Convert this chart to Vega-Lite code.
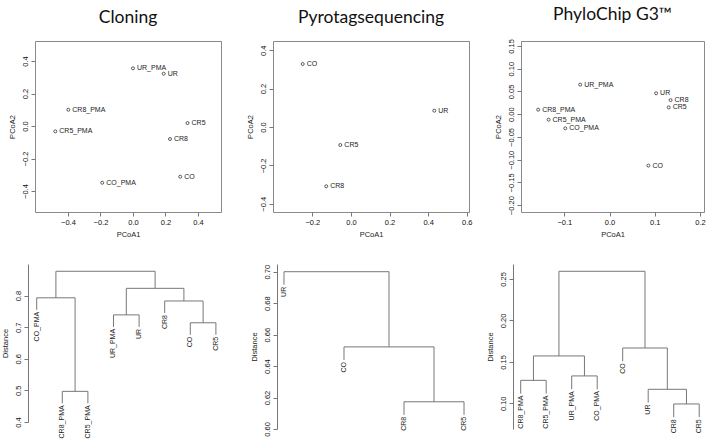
{
  "$schema": "https://vega.github.io/schema/vega-lite/v6.json",
  "padding": {"left": 0, "top": 5, "right": 2, "bottom": 2},
  "background": "white",
  "config": {
    "font": "Liberation Sans",
    "view": {"stroke": "#8a8a8a", "strokeWidth": 1},
    "axis": {"grid": false, "labelFontSize": 7.5, "titleFontSize": 7.5, "titleFontWeight": "normal", "labelColor": "#111", "titleColor": "#222", "tickColor": "#777", "domainColor": "#777", "tickSize": 4, "labelFont": "Liberation Sans", "titleFont": "Liberation Sans", "labelOverlap": false, "labelBound": false, "labelFlush": false},
    "axisX": {"labelPadding": 2, "titlePadding": 5, "domain": false},
    "axisY": {"labelAngle": 270, "labelAlign": "center", "labelBaseline": "bottom", "labelPadding": 2, "titlePadding": 5},
    "title": {"font": "Lato", "fontSize": 17.5, "fontWeight": "normal", "color": "#111", "anchor": "middle", "offset": 15}
  },
  "datasets": {
    "s1": [
      {"label": "UR_PMA", "pc1": 0.0, "pc2": 0.355},
      {"label": "UR", "pc1": 0.189, "pc2": 0.322},
      {"label": "CR8_PMA", "pc1": -0.398, "pc2": 0.10},
      {"label": "CR5_PMA", "pc1": -0.478, "pc2": -0.033},
      {"label": "CR5", "pc1": 0.336, "pc2": 0.018},
      {"label": "CR8", "pc1": 0.228, "pc2": -0.08},
      {"label": "CO", "pc1": 0.291, "pc2": -0.312},
      {"label": "CO_PMA", "pc1": -0.189, "pc2": -0.349}
    ],
    "s2": [
      {"label": "CO", "pc1": -0.25, "pc2": 0.328},
      {"label": "UR", "pc1": 0.432, "pc2": 0.085},
      {"label": "CR5", "pc1": -0.055, "pc2": -0.094},
      {"label": "CR8", "pc1": -0.128, "pc2": -0.309}
    ],
    "s3": [
      {"label": "UR_PMA", "pc1": -0.065, "pc2": 0.065},
      {"label": "UR", "pc1": 0.103, "pc2": 0.046},
      {"label": "CR8", "pc1": 0.135, "pc2": 0.031},
      {"label": "CR5", "pc1": 0.131, "pc2": 0.015},
      {"label": "CR8_PMA", "pc1": -0.158, "pc2": 0.010},
      {"label": "CR5_PMA", "pc1": -0.135, "pc2": -0.012},
      {"label": "CO_PMA", "pc1": -0.098, "pc2": -0.031},
      {"label": "CO", "pc1": 0.086, "pc2": -0.113}
    ],
    "d1seg": [
      {"x": 2, "x2": 3, "y": 0.497, "y2": 0.497},
      {"x": 2, "x2": 2, "y": 0.497, "y2": 0.459},
      {"x": 3, "x2": 3, "y": 0.497, "y2": 0.459},
      {"x": 1, "x2": 2.5, "y": 0.793, "y2": 0.793},
      {"x": 1, "x2": 1, "y": 0.793, "y2": 0.755},
      {"x": 2.5, "x2": 2.5, "y": 0.793, "y2": 0.497},
      {"x": 4, "x2": 5, "y": 0.739, "y2": 0.739},
      {"x": 4, "x2": 4, "y": 0.739, "y2": 0.701},
      {"x": 5, "x2": 5, "y": 0.739, "y2": 0.701},
      {"x": 7, "x2": 8, "y": 0.714, "y2": 0.714},
      {"x": 7, "x2": 7, "y": 0.714, "y2": 0.676},
      {"x": 8, "x2": 8, "y": 0.714, "y2": 0.676},
      {"x": 6, "x2": 7.5, "y": 0.783, "y2": 0.783},
      {"x": 6, "x2": 6, "y": 0.783, "y2": 0.745},
      {"x": 7.5, "x2": 7.5, "y": 0.783, "y2": 0.714},
      {"x": 4.5, "x2": 6.75, "y": 0.823, "y2": 0.823},
      {"x": 4.5, "x2": 4.5, "y": 0.823, "y2": 0.739},
      {"x": 6.75, "x2": 6.75, "y": 0.823, "y2": 0.783},
      {"x": 1.75, "x2": 5.625, "y": 0.877, "y2": 0.877},
      {"x": 1.75, "x2": 1.75, "y": 0.877, "y2": 0.793},
      {"x": 5.625, "x2": 5.625, "y": 0.877, "y2": 0.823}
    ],
    "d1lab": [
      {"label": "CO_PMA", "x": 1, "y": 0.755},
      {"label": "CR8_PMA", "x": 2, "y": 0.459},
      {"label": "CR5_PMA", "x": 3, "y": 0.459},
      {"label": "UR_PMA", "x": 4, "y": 0.701},
      {"label": "UR", "x": 5, "y": 0.701},
      {"label": "CR8", "x": 6, "y": 0.745},
      {"label": "CO", "x": 7, "y": 0.676},
      {"label": "CR5", "x": 8, "y": 0.676}
    ],
    "d2seg": [
      {"x": 3, "x2": 4, "y": 0.6173, "y2": 0.6173},
      {"x": 3, "x2": 3, "y": 0.6173, "y2": 0.609},
      {"x": 4, "x2": 4, "y": 0.6173, "y2": 0.609},
      {"x": 2, "x2": 3.5, "y": 0.6522, "y2": 0.6522},
      {"x": 2, "x2": 2, "y": 0.6522, "y2": 0.6439},
      {"x": 3.5, "x2": 3.5, "y": 0.6522, "y2": 0.6173},
      {"x": 1, "x2": 2.75, "y": 0.70, "y2": 0.70},
      {"x": 1, "x2": 1, "y": 0.70, "y2": 0.6917},
      {"x": 2.75, "x2": 2.75, "y": 0.70, "y2": 0.6522}
    ],
    "d2lab": [
      {"label": "UR", "x": 1, "y": 0.6917},
      {"label": "CO", "x": 2, "y": 0.6439},
      {"label": "CR8", "x": 3, "y": 0.609},
      {"label": "CR5", "x": 4, "y": 0.609}
    ],
    "d3seg": [
      {"x": 1, "x2": 2, "y": 0.1277, "y2": 0.1277},
      {"x": 1, "x2": 1, "y": 0.1277, "y2": 0.1117},
      {"x": 2, "x2": 2, "y": 0.1277, "y2": 0.1117},
      {"x": 3, "x2": 4, "y": 0.133, "y2": 0.133},
      {"x": 3, "x2": 3, "y": 0.133, "y2": 0.117},
      {"x": 4, "x2": 4, "y": 0.133, "y2": 0.117},
      {"x": 1.5, "x2": 3.5, "y": 0.1571, "y2": 0.1571},
      {"x": 1.5, "x2": 1.5, "y": 0.1571, "y2": 0.1277},
      {"x": 3.5, "x2": 3.5, "y": 0.1571, "y2": 0.133},
      {"x": 7, "x2": 8, "y": 0.0992, "y2": 0.0992},
      {"x": 7, "x2": 7, "y": 0.0992, "y2": 0.0832},
      {"x": 8, "x2": 8, "y": 0.0992, "y2": 0.0832},
      {"x": 6, "x2": 7.5, "y": 0.1169, "y2": 0.1169},
      {"x": 6, "x2": 6, "y": 0.1169, "y2": 0.1009},
      {"x": 7.5, "x2": 7.5, "y": 0.1169, "y2": 0.0992},
      {"x": 5, "x2": 6.75, "y": 0.1667, "y2": 0.1667},
      {"x": 5, "x2": 5, "y": 0.1667, "y2": 0.1507},
      {"x": 6.75, "x2": 6.75, "y": 0.1667, "y2": 0.1169},
      {"x": 2.5, "x2": 5.875, "y": 0.2592, "y2": 0.2592},
      {"x": 2.5, "x2": 2.5, "y": 0.2592, "y2": 0.1571},
      {"x": 5.875, "x2": 5.875, "y": 0.2592, "y2": 0.1667}
    ],
    "d3lab": [
      {"label": "CR8_PMA", "x": 1, "y": 0.1117},
      {"label": "CR5_PMA", "x": 2, "y": 0.1117},
      {"label": "UR_PMA", "x": 3, "y": 0.117},
      {"label": "CO_PMA", "x": 4, "y": 0.117},
      {"label": "CO", "x": 5, "y": 0.1507},
      {"label": "UR", "x": 6, "y": 0.1009},
      {"label": "CR8", "x": 7, "y": 0.0832},
      {"label": "CR5", "x": 8, "y": 0.0832}
    ]
  },
  "columns": 3,
  "align": "each",
  "bounds": "flush",
  "spacing": {"row": 52, "column": 52},
  "concat": [
    {
      "title": "Cloning",
      "width": 186, "height": 171,
      "data": {"name": "s1"},
      "encoding": {
        "x": {"field": "pc1", "type": "quantitative", "title": "PCoA1", "scale": {"domain": [-0.603, 0.542], "nice": false, "zero": false}, "axis": {"values": [-0.4, -0.2, 0, 0.2, 0.4], "format": ".1f", "labelOverlap": false}},
        "y": {"field": "pc2", "type": "quantitative", "title": "PCoA2", "scale": {"domain": [-0.529, 0.523], "nice": false, "zero": false}, "axis": {"values": [-0.4, -0.2, 0, 0.2, 0.4], "format": ".1f", "domain": false, "labelOverlap": false}}
      },
      "layer": [
        {"mark": {"type": "point", "shape": "circle", "filled": false, "size": 9, "strokeWidth": 0.8, "color": "#333", "opacity": 1}},
        {"mark": {"type": "text", "align": "left", "baseline": "middle", "dx": 4, "fontSize": 7, "color": "#222"}, "encoding": {"text": {"field": "label"}}}
      ]
    },
    {
      "title": "Pyrotagsequencing",
      "width": 196, "height": 171,
      "data": {"name": "s2"},
      "encoding": {
        "x": {"field": "pc1", "type": "quantitative", "title": "PCoA1", "scale": {"domain": [-0.404, 0.612], "nice": false, "zero": false}, "axis": {"values": [-0.2, 0, 0.2, 0.4, 0.6], "format": ".1f", "labelOverlap": false}},
        "y": {"field": "pc2", "type": "quantitative", "title": "PCoA2", "scale": {"domain": [-0.443, 0.448], "nice": false, "zero": false}, "axis": {"values": [-0.4, -0.2, 0, 0.2, 0.4], "format": ".1f", "domain": false, "labelOverlap": false}}
      },
      "layer": [
        {"mark": {"type": "point", "shape": "circle", "filled": false, "size": 9, "strokeWidth": 0.8, "color": "#333", "opacity": 1}},
        {"mark": {"type": "text", "align": "left", "baseline": "middle", "dx": 4, "fontSize": 7, "color": "#222"}, "encoding": {"text": {"field": "label"}}}
      ]
    },
    {
      "title": "PhyloChip G3™",
      "width": 183, "height": 171,
      "data": {"name": "s3"},
      "encoding": {
        "x": {"field": "pc1", "type": "quantitative", "title": "PCoA1", "scale": {"domain": [-0.196, 0.209], "nice": false, "zero": false}, "axis": {"values": [-0.2, -0.1, 0, 0.1, 0.2], "format": ".1f", "labelOverlap": false}},
        "y": {"field": "pc2", "type": "quantitative", "title": "PCoA2", "scale": {"domain": [-0.215, 0.161], "nice": false, "zero": false}, "axis": {"values": [-0.2, -0.15, -0.1, -0.05, 0, 0.05, 0.1, 0.15], "format": ".2f", "domain": false, "labelOverlap": false}}
      },
      "layer": [
        {"mark": {"type": "point", "shape": "circle", "filled": false, "size": 9, "strokeWidth": 0.8, "color": "#333", "opacity": 1}},
        {"mark": {"type": "text", "align": "left", "baseline": "middle", "dx": 4, "fontSize": 7, "color": "#222"}, "encoding": {"text": {"field": "label"}}}
      ]
    },
    {
      "width": 186, "height": 158,
      "view": {"stroke": null},
      "encoding": {
        "x": {"field": "x", "type": "quantitative", "axis": null, "scale": {"domain": [0.934, 8.199], "nice": false, "zero": false}},
        "y": {"field": "y", "type": "quantitative", "title": "Distance", "scale": {"domain": [0.4, 0.9], "nice": false, "zero": false}, "axis": {"values": [0.4, 0.5, 0.6, 0.7, 0.8], "format": ".1f", "offset": 7, "labelOverlap": false}}
      },
      "layer": [
        {
          "data": {"name": "d1seg"},
          "mark": {"type": "rule", "color": "#777", "strokeWidth": 1},
          "encoding": {"x2": {"field": "x2"}, "y2": {"field": "y2"}}
        },
        {
          "data": {"name": "d1lab"},
          "mark": {"type": "text", "angle": 270, "align": "right", "baseline": "middle", "dx": -2, "fontSize": 7, "color": "#222"},
          "encoding": {"text": {"field": "label"}}
        }
      ]
    },
    {
      "width": 196, "height": 165,
      "view": {"stroke": null},
      "encoding": {
        "x": {"field": "x", "type": "quantitative", "axis": null, "scale": {"domain": [0.817, 4.083], "nice": false, "zero": false}},
        "y": {"field": "y", "type": "quantitative", "title": "Distance", "scale": {"domain": [0.6, 0.7049], "nice": false, "zero": false}, "axis": {"values": [0.6, 0.62, 0.64, 0.66, 0.68, 0.7], "format": ".2f", "offset": -4, "labelOverlap": false}}
      },
      "layer": [
        {
          "data": {"name": "d2seg"},
          "mark": {"type": "rule", "color": "#777", "strokeWidth": 1},
          "encoding": {"x2": {"field": "x2"}, "y2": {"field": "y2"}}
        },
        {
          "data": {"name": "d2lab"},
          "mark": {"type": "text", "angle": 270, "align": "right", "baseline": "middle", "dx": -2, "fontSize": 7, "color": "#222"},
          "encoding": {"text": {"field": "label"}}
        }
      ]
    },
    {
      "width": 183, "height": 165,
      "view": {"stroke": null},
      "encoding": {
        "x": {"field": "x", "type": "quantitative", "axis": null, "scale": {"domain": [1.012, 8.188], "nice": false, "zero": false}},
        "y": {"field": "y", "type": "quantitative", "title": "Distance", "scale": {"domain": [0.069, 0.268], "nice": false, "zero": false}, "axis": {"values": [0.1, 0.15, 0.2, 0.25], "format": ".2f", "offset": 8, "labelOverlap": false}}
      },
      "layer": [
        {
          "data": {"name": "d3seg"},
          "mark": {"type": "rule", "color": "#777", "strokeWidth": 1},
          "encoding": {"x2": {"field": "x2"}, "y2": {"field": "y2"}}
        },
        {
          "data": {"name": "d3lab"},
          "mark": {"type": "text", "angle": 270, "align": "right", "baseline": "middle", "dx": -2, "fontSize": 7, "color": "#222"},
          "encoding": {"text": {"field": "label"}}
        }
      ]
    }
  ]
}
